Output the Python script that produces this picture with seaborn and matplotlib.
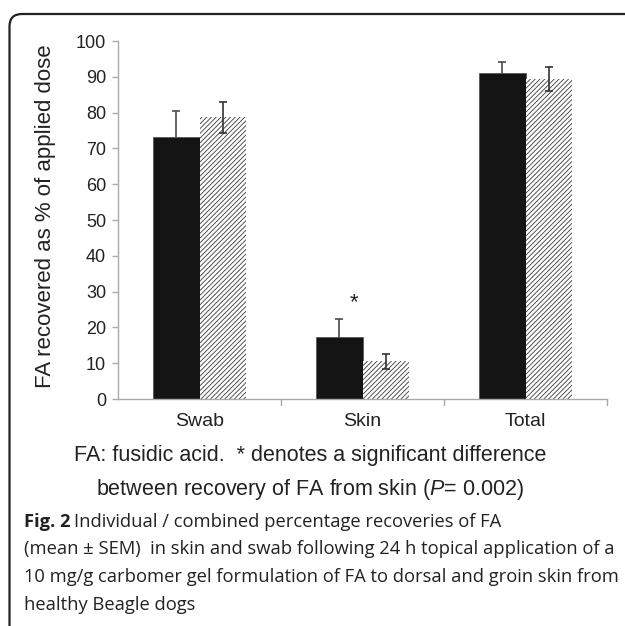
import numpy as np
import pandas as pd
import matplotlib
matplotlib.use("Agg")
import matplotlib.pyplot as plt
import seaborn as sns
from matplotlib.patches import FancyBboxPatch

# data
sites = ["Swab", "Skin", "Total"]
groups = ["A", "B"]
mean_a = [73.3, 17.4, 91.0]
sem_a = [7.2, 4.9, 3.1]
mean_b = [78.7, 10.5, 89.4]
sem_b = [4.3, 2.1, 3.3]

df = pd.DataFrame({
    "site": sites * 2,
    "group": ["A"] * 3 + ["B"] * 3,
    "value": mean_a + mean_b,
})

sns.set_style("white")
plt.rcParams["font.family"] = ["Liberation Sans", "DejaVu Sans"]
plt.rcParams["mathtext.fontset"] = "custom"
plt.rcParams["mathtext.rm"] = "Liberation Sans"
plt.rcParams["mathtext.it"] = "Liberation Sans:italic"
plt.rcParams["hatch.linewidth"] = 0.6

fig = plt.figure(figsize=(6.25, 6.26), dpi=100)
ax = fig.add_axes([0.1888, 0.3626, 0.7824, 0.5719])

sns.barplot(data=df, x="site", y="value", hue="group", order=sites,
            hue_order=groups, palette=["#141414", "white"], width=0.57,
            errorbar=None, legend=False, ax=ax)

bars_a = ax.patches[:3]
bars_b = ax.patches[3:6]
for p in bars_a:
    p.set_edgecolor("#555555")
    p.set_linewidth(0.6)
    p.set_zorder(2)
for p in bars_b:
    p.set_edgecolor("#3a3a3a")
    p.set_linewidth(0)
    p.set_hatch("///////")
    p.set_zorder(2)

xa = [p.get_x() + p.get_width() / 2 for p in bars_a]
xb = [p.get_x() + p.get_width() / 2 for p in bars_b]
# black-bar error bars sit behind the bars so only the upper half shows
ax.errorbar(xa, mean_a, yerr=sem_a, fmt="none",
            ecolor="#4a4a4a", elinewidth=1.2, capsize=2.6, capthick=1.2, zorder=1)
ax.errorbar(xb, mean_b, yerr=sem_b, fmt="none",
            ecolor="#333333", elinewidth=1.2, capsize=2.6, capthick=1.2, zorder=3)

ax.text(0.945, 27.0, "*", ha="center", va="center", fontsize=16, color="#222222")

ax.set_xlim(-0.5, 2.5)
ax.set_ylim(0, 100)
ax.set_yticks(range(0, 101, 10))
ax.set_xticks([0, 1, 2])
ax.set_xticklabels(sites, fontsize=14, color="#222222")
ax.tick_params(axis="x", length=0, pad=10)
ax.tick_params(axis="y", labelsize=13, labelcolor="#222222", length=4,
               color="#aaaaaa", width=1, pad=4.5, left=True)
for x in [0.5, 1.5, 2.5]:
    ax.plot([x, x], [0, -0.018], transform=ax.get_xaxis_transform(),
            color="#aaaaaa", lw=1, clip_on=False)
sns.despine(ax=ax, top=True, right=True)
ax.spines["left"].set_color("#aaaaaa")
ax.spines["bottom"].set_color("#aaaaaa")
ax.spines["left"].set_linewidth(1)
ax.spines["bottom"].set_linewidth(1)
ax.set_xlabel("")
ax.set_ylabel("FA recovered as % of applied dose", fontsize=16, color="#222222")
ax.yaxis.set_label_coords(-(118 - 56) / 489, 0.512)

# footnote below the chart
fig.text(0.496, 1 - 455 / 626, "FA: fusidic acid.  * denotes a significant difference",
         ha="center", va="center", fontsize=15.5, color="#222222")
fig.text(0.496, 1 - 489 / 626, r"between recovery of FA from skin ($\mathit{P}$= 0.002)",
         ha="center", va="center", fontsize=15.5, color="#222222")

# caption
cap_font = ["Open Sans", "DejaVu Sans"]
x0 = 24 / 625
t = fig.text(x0, 1 - 522 / 626, "Fig. 2", fontweight="bold", fontsize=13.2,
             family=cap_font, va="center", color="#222222")
fig.canvas.draw()
bb = t.get_window_extent(fig.canvas.get_renderer())
fig.text(bb.x1 / 625 + 0.006, 1 - 522 / 626,
         "Individual / combined percentage recoveries of FA",
         fontsize=13.2, family=cap_font, va="center", color="#222222")
cap_lines = [
    "(mean \u00b1 SEM)  in skin and swab following 24 h topical application of a",
    "10 mg/g carbomer gel formulation of FA to dorsal and groin skin from",
    "healthy Beagle dogs",
]
for i, line in enumerate(cap_lines):
    fig.text(x0, 1 - (549.5 + 27.5 * i) / 626, line, fontsize=13.2,
             family=cap_font, va="center", color="#222222")

# rounded frame, open at right and bottom
frame = FancyBboxPatch((9.5 / 625, -0.2), 1.3, 1.2 - 14 / 626,
                       boxstyle="round,pad=0,rounding_size=0.02",
                       transform=fig.transFigure, fill=False,
                       edgecolor="#222222", linewidth=1.6, clip_on=False)
fig.patches.append(frame)

fig.savefig("out.png", dpi=100)
